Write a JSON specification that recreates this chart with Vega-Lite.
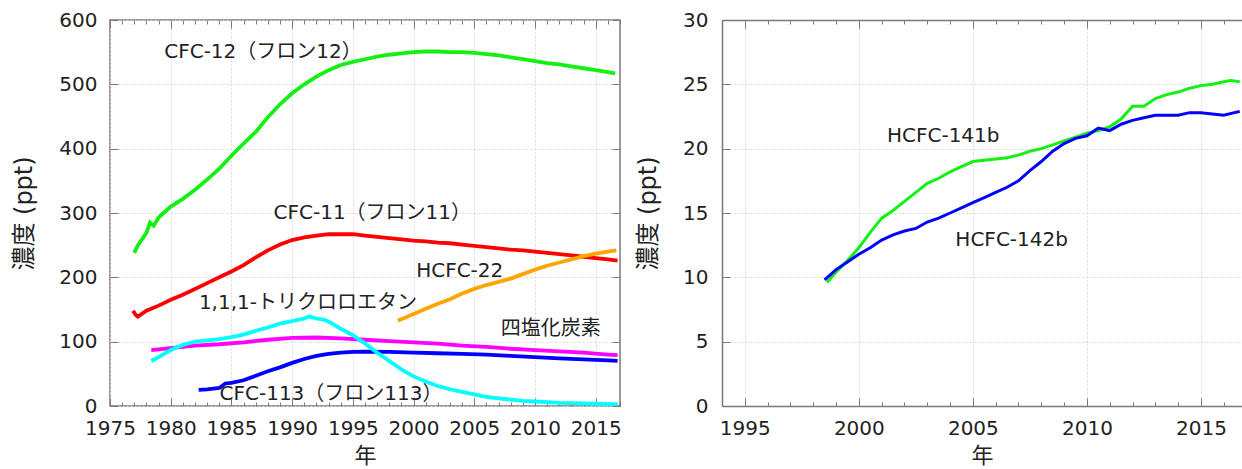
{
  "$schema": "https://vega.github.io/schema/vega-lite/v6.json",
  "padding": {"left": 12, "top": 9, "right": 0, "bottom": 0},
  "spacing": 102,
  "bounds": "flush",
  "datasets": {
    "left": [
      {"s": "CFC-12", "year": 1977.0, "ppt": 238}, {"s": "CFC-12", "year": 1977.3, "ppt": 250}, {"s": "CFC-12", "year": 1977.6, "ppt": 258}, {"s": "CFC-12", "year": 1978.0, "ppt": 269}, {"s": "CFC-12", "year": 1978.3, "ppt": 285}, {"s": "CFC-12", "year": 1978.6, "ppt": 280}, {"s": "CFC-12", "year": 1979.0, "ppt": 293}, {"s": "CFC-12", "year": 1980.0, "ppt": 310}, {"s": "CFC-12", "year": 1981.0, "ppt": 322}, {"s": "CFC-12", "year": 1982.0, "ppt": 336}, {"s": "CFC-12", "year": 1983.0, "ppt": 352}, {"s": "CFC-12", "year": 1984.0, "ppt": 369}, {"s": "CFC-12", "year": 1985.0, "ppt": 389}, {"s": "CFC-12", "year": 1986.0, "ppt": 408}, {"s": "CFC-12", "year": 1987.0, "ppt": 426}, {"s": "CFC-12", "year": 1988.0, "ppt": 449}, {"s": "CFC-12", "year": 1989.0, "ppt": 469}, {"s": "CFC-12", "year": 1990.0, "ppt": 486}, {"s": "CFC-12", "year": 1991.0, "ppt": 500}, {"s": "CFC-12", "year": 1992.0, "ppt": 512}, {"s": "CFC-12", "year": 1993.0, "ppt": 522}, {"s": "CFC-12", "year": 1994.0, "ppt": 530}, {"s": "CFC-12", "year": 1995.0, "ppt": 535}, {"s": "CFC-12", "year": 1996.0, "ppt": 539}, {"s": "CFC-12", "year": 1997.0, "ppt": 543}, {"s": "CFC-12", "year": 1998.0, "ppt": 546}, {"s": "CFC-12", "year": 1999.0, "ppt": 548}, {"s": "CFC-12", "year": 2000.0, "ppt": 550}, {"s": "CFC-12", "year": 2001.0, "ppt": 551}, {"s": "CFC-12", "year": 2002.0, "ppt": 551}, {"s": "CFC-12", "year": 2003.0, "ppt": 550}, {"s": "CFC-12", "year": 2004.0, "ppt": 550}, {"s": "CFC-12", "year": 2005.0, "ppt": 549}, {"s": "CFC-12", "year": 2006.0, "ppt": 547}, {"s": "CFC-12", "year": 2007.0, "ppt": 545}, {"s": "CFC-12", "year": 2008.0, "ppt": 542}, {"s": "CFC-12", "year": 2009.0, "ppt": 539}, {"s": "CFC-12", "year": 2010.0, "ppt": 536}, {"s": "CFC-12", "year": 2011.0, "ppt": 533}, {"s": "CFC-12", "year": 2012.0, "ppt": 531}, {"s": "CFC-12", "year": 2013.0, "ppt": 528}, {"s": "CFC-12", "year": 2014.0, "ppt": 525}, {"s": "CFC-12", "year": 2015.0, "ppt": 522}, {"s": "CFC-12", "year": 2016.0, "ppt": 519}, {"s": "CFC-12", "year": 2016.6, "ppt": 517},
      {"s": "CFC-11", "year": 1976.9, "ppt": 148}, {"s": "CFC-11", "year": 1977.1, "ppt": 142}, {"s": "CFC-11", "year": 1977.3, "ppt": 139}, {"s": "CFC-11", "year": 1978.0, "ppt": 148}, {"s": "CFC-11", "year": 1979.0, "ppt": 156}, {"s": "CFC-11", "year": 1980.0, "ppt": 165}, {"s": "CFC-11", "year": 1981.0, "ppt": 173}, {"s": "CFC-11", "year": 1982.0, "ppt": 182}, {"s": "CFC-11", "year": 1983.0, "ppt": 191}, {"s": "CFC-11", "year": 1984.0, "ppt": 200}, {"s": "CFC-11", "year": 1985.0, "ppt": 209}, {"s": "CFC-11", "year": 1986.0, "ppt": 219}, {"s": "CFC-11", "year": 1987.0, "ppt": 231}, {"s": "CFC-11", "year": 1988.0, "ppt": 242}, {"s": "CFC-11", "year": 1989.0, "ppt": 251}, {"s": "CFC-11", "year": 1990.0, "ppt": 258}, {"s": "CFC-11", "year": 1991.0, "ppt": 262}, {"s": "CFC-11", "year": 1992.0, "ppt": 265}, {"s": "CFC-11", "year": 1993.0, "ppt": 267}, {"s": "CFC-11", "year": 1994.0, "ppt": 267}, {"s": "CFC-11", "year": 1995.0, "ppt": 267}, {"s": "CFC-11", "year": 1996.0, "ppt": 265}, {"s": "CFC-11", "year": 1997.0, "ppt": 263}, {"s": "CFC-11", "year": 1998.0, "ppt": 261}, {"s": "CFC-11", "year": 1999.0, "ppt": 259}, {"s": "CFC-11", "year": 2000.0, "ppt": 257}, {"s": "CFC-11", "year": 2001.0, "ppt": 256}, {"s": "CFC-11", "year": 2002.0, "ppt": 254}, {"s": "CFC-11", "year": 2003.0, "ppt": 253}, {"s": "CFC-11", "year": 2004.0, "ppt": 251}, {"s": "CFC-11", "year": 2005.0, "ppt": 249}, {"s": "CFC-11", "year": 2006.0, "ppt": 247}, {"s": "CFC-11", "year": 2007.0, "ppt": 245}, {"s": "CFC-11", "year": 2008.0, "ppt": 243}, {"s": "CFC-11", "year": 2009.0, "ppt": 242}, {"s": "CFC-11", "year": 2010.0, "ppt": 240}, {"s": "CFC-11", "year": 2011.0, "ppt": 238}, {"s": "CFC-11", "year": 2012.0, "ppt": 236}, {"s": "CFC-11", "year": 2013.0, "ppt": 234}, {"s": "CFC-11", "year": 2014.0, "ppt": 232}, {"s": "CFC-11", "year": 2015.0, "ppt": 230}, {"s": "CFC-11", "year": 2016.0, "ppt": 228}, {"s": "CFC-11", "year": 2016.8, "ppt": 226},
      {"s": "HCFC-22", "year": 1998.7, "ppt": 133}, {"s": "HCFC-22", "year": 1999.0, "ppt": 135}, {"s": "HCFC-22", "year": 2000.0, "ppt": 143}, {"s": "HCFC-22", "year": 2001.0, "ppt": 151}, {"s": "HCFC-22", "year": 2002.0, "ppt": 159}, {"s": "HCFC-22", "year": 2003.0, "ppt": 166}, {"s": "HCFC-22", "year": 2004.0, "ppt": 175}, {"s": "HCFC-22", "year": 2005.0, "ppt": 182}, {"s": "HCFC-22", "year": 2006.0, "ppt": 188}, {"s": "HCFC-22", "year": 2007.0, "ppt": 193}, {"s": "HCFC-22", "year": 2008.0, "ppt": 198}, {"s": "HCFC-22", "year": 2009.0, "ppt": 205}, {"s": "HCFC-22", "year": 2010.0, "ppt": 212}, {"s": "HCFC-22", "year": 2011.0, "ppt": 218}, {"s": "HCFC-22", "year": 2012.0, "ppt": 223}, {"s": "HCFC-22", "year": 2013.0, "ppt": 228}, {"s": "HCFC-22", "year": 2014.0, "ppt": 233}, {"s": "HCFC-22", "year": 2015.0, "ppt": 237}, {"s": "HCFC-22", "year": 2016.0, "ppt": 240}, {"s": "HCFC-22", "year": 2016.7, "ppt": 242},
      {"s": "CCl4", "year": 1978.4, "ppt": 87}, {"s": "CCl4", "year": 1980.0, "ppt": 90}, {"s": "CCl4", "year": 1982.0, "ppt": 94}, {"s": "CCl4", "year": 1984.0, "ppt": 96}, {"s": "CCl4", "year": 1986.0, "ppt": 99}, {"s": "CCl4", "year": 1988.0, "ppt": 103}, {"s": "CCl4", "year": 1990.0, "ppt": 106}, {"s": "CCl4", "year": 1992.0, "ppt": 106.5}, {"s": "CCl4", "year": 1994.0, "ppt": 105}, {"s": "CCl4", "year": 1996.0, "ppt": 103}, {"s": "CCl4", "year": 1998.0, "ppt": 101}, {"s": "CCl4", "year": 2000.0, "ppt": 99}, {"s": "CCl4", "year": 2002.0, "ppt": 97}, {"s": "CCl4", "year": 2004.0, "ppt": 94}, {"s": "CCl4", "year": 2006.0, "ppt": 92}, {"s": "CCl4", "year": 2008.0, "ppt": 89}, {"s": "CCl4", "year": 2010.0, "ppt": 87}, {"s": "CCl4", "year": 2012.0, "ppt": 85}, {"s": "CCl4", "year": 2014.0, "ppt": 83}, {"s": "CCl4", "year": 2016.0, "ppt": 80}, {"s": "CCl4", "year": 2016.8, "ppt": 79},
      {"s": "CFC-113", "year": 1982.3, "ppt": 25}, {"s": "CFC-113", "year": 1983.0, "ppt": 26}, {"s": "CFC-113", "year": 1984.0, "ppt": 28}, {"s": "CFC-113", "year": 1984.5, "ppt": 35}, {"s": "CFC-113", "year": 1985.0, "ppt": 36}, {"s": "CFC-113", "year": 1986.0, "ppt": 40}, {"s": "CFC-113", "year": 1987.0, "ppt": 47}, {"s": "CFC-113", "year": 1988.0, "ppt": 54}, {"s": "CFC-113", "year": 1989.0, "ppt": 60}, {"s": "CFC-113", "year": 1990.0, "ppt": 67}, {"s": "CFC-113", "year": 1991.0, "ppt": 73}, {"s": "CFC-113", "year": 1992.0, "ppt": 78}, {"s": "CFC-113", "year": 1993.0, "ppt": 81}, {"s": "CFC-113", "year": 1994.0, "ppt": 83}, {"s": "CFC-113", "year": 1995.0, "ppt": 84}, {"s": "CFC-113", "year": 1996.0, "ppt": 84.5}, {"s": "CFC-113", "year": 1998.0, "ppt": 84}, {"s": "CFC-113", "year": 2000.0, "ppt": 83}, {"s": "CFC-113", "year": 2002.0, "ppt": 82}, {"s": "CFC-113", "year": 2004.0, "ppt": 81}, {"s": "CFC-113", "year": 2006.0, "ppt": 80}, {"s": "CFC-113", "year": 2008.0, "ppt": 78}, {"s": "CFC-113", "year": 2010.0, "ppt": 76}, {"s": "CFC-113", "year": 2012.0, "ppt": 74}, {"s": "CFC-113", "year": 2014.0, "ppt": 72.5}, {"s": "CFC-113", "year": 2016.0, "ppt": 71}, {"s": "CFC-113", "year": 2016.8, "ppt": 70},
      {"s": "CH3CCl3", "year": 1978.4, "ppt": 70}, {"s": "CH3CCl3", "year": 1979.0, "ppt": 76}, {"s": "CH3CCl3", "year": 1980.0, "ppt": 87}, {"s": "CH3CCl3", "year": 1981.0, "ppt": 95}, {"s": "CH3CCl3", "year": 1982.0, "ppt": 100}, {"s": "CH3CCl3", "year": 1983.0, "ppt": 102}, {"s": "CH3CCl3", "year": 1984.0, "ppt": 104}, {"s": "CH3CCl3", "year": 1985.0, "ppt": 107}, {"s": "CH3CCl3", "year": 1986.0, "ppt": 111}, {"s": "CH3CCl3", "year": 1987.0, "ppt": 117}, {"s": "CH3CCl3", "year": 1988.0, "ppt": 122}, {"s": "CH3CCl3", "year": 1989.0, "ppt": 128}, {"s": "CH3CCl3", "year": 1990.0, "ppt": 132}, {"s": "CH3CCl3", "year": 1991.0, "ppt": 136}, {"s": "CH3CCl3", "year": 1991.4, "ppt": 139}, {"s": "CH3CCl3", "year": 1992.0, "ppt": 136}, {"s": "CH3CCl3", "year": 1992.7, "ppt": 134}, {"s": "CH3CCl3", "year": 1993.3, "ppt": 128}, {"s": "CH3CCl3", "year": 1994.0, "ppt": 120}, {"s": "CH3CCl3", "year": 1995.0, "ppt": 110}, {"s": "CH3CCl3", "year": 1996.0, "ppt": 97}, {"s": "CH3CCl3", "year": 1997.0, "ppt": 83}, {"s": "CH3CCl3", "year": 1998.0, "ppt": 70}, {"s": "CH3CCl3", "year": 1999.0, "ppt": 57}, {"s": "CH3CCl3", "year": 2000.0, "ppt": 46}, {"s": "CH3CCl3", "year": 2001.0, "ppt": 38}, {"s": "CH3CCl3", "year": 2002.0, "ppt": 31}, {"s": "CH3CCl3", "year": 2003.0, "ppt": 26}, {"s": "CH3CCl3", "year": 2004.0, "ppt": 22}, {"s": "CH3CCl3", "year": 2005.0, "ppt": 18}, {"s": "CH3CCl3", "year": 2006.0, "ppt": 14}, {"s": "CH3CCl3", "year": 2007.0, "ppt": 12}, {"s": "CH3CCl3", "year": 2008.0, "ppt": 10}, {"s": "CH3CCl3", "year": 2009.0, "ppt": 8}, {"s": "CH3CCl3", "year": 2010.0, "ppt": 7}, {"s": "CH3CCl3", "year": 2011.0, "ppt": 6}, {"s": "CH3CCl3", "year": 2012.0, "ppt": 5}, {"s": "CH3CCl3", "year": 2013.0, "ppt": 4.5}, {"s": "CH3CCl3", "year": 2014.0, "ppt": 4}, {"s": "CH3CCl3", "year": 2015.0, "ppt": 3.5}, {"s": "CH3CCl3", "year": 2016.0, "ppt": 3}, {"s": "CH3CCl3", "year": 2016.8, "ppt": 2.8}
    ],
    "leftLabels": [
      {"label": "CFC-12（フロン12）", "x": 1987.6, "y": 550},
      {"label": "CFC-11（フロン11）", "x": 1996.6, "y": 300},
      {"label": "HCFC-22", "x": 2003.8, "y": 210},
      {"label": "1,1,1-トリクロロエタン", "x": 1991.3, "y": 160},
      {"label": "四塩化炭素", "x": 2011.3, "y": 120},
      {"label": "CFC-113（フロン113）", "x": 1993.2, "y": 19}
    ],
    "right": [
      {"s": "HCFC-141b", "year": 1998.6, "ppt": 9.6}, {"s": "HCFC-141b", "year": 1999.0, "ppt": 10.4}, {"s": "HCFC-141b", "year": 1999.5, "ppt": 11.3}, {"s": "HCFC-141b", "year": 2000.0, "ppt": 12.3}, {"s": "HCFC-141b", "year": 2000.5, "ppt": 13.5}, {"s": "HCFC-141b", "year": 2001.0, "ppt": 14.6}, {"s": "HCFC-141b", "year": 2001.5, "ppt": 15.2}, {"s": "HCFC-141b", "year": 2002.0, "ppt": 15.9}, {"s": "HCFC-141b", "year": 2002.5, "ppt": 16.6}, {"s": "HCFC-141b", "year": 2003.0, "ppt": 17.3}, {"s": "HCFC-141b", "year": 2003.5, "ppt": 17.7}, {"s": "HCFC-141b", "year": 2004.0, "ppt": 18.2}, {"s": "HCFC-141b", "year": 2004.5, "ppt": 18.6}, {"s": "HCFC-141b", "year": 2005.0, "ppt": 19.0}, {"s": "HCFC-141b", "year": 2005.5, "ppt": 19.1}, {"s": "HCFC-141b", "year": 2006.0, "ppt": 19.2}, {"s": "HCFC-141b", "year": 2006.5, "ppt": 19.3}, {"s": "HCFC-141b", "year": 2007.0, "ppt": 19.5}, {"s": "HCFC-141b", "year": 2007.5, "ppt": 19.8}, {"s": "HCFC-141b", "year": 2008.0, "ppt": 20.0}, {"s": "HCFC-141b", "year": 2008.5, "ppt": 20.3}, {"s": "HCFC-141b", "year": 2009.0, "ppt": 20.6}, {"s": "HCFC-141b", "year": 2009.5, "ppt": 20.9}, {"s": "HCFC-141b", "year": 2010.0, "ppt": 21.2}, {"s": "HCFC-141b", "year": 2010.5, "ppt": 21.4}, {"s": "HCFC-141b", "year": 2011.0, "ppt": 21.7}, {"s": "HCFC-141b", "year": 2011.5, "ppt": 22.3}, {"s": "HCFC-141b", "year": 2012.0, "ppt": 23.3}, {"s": "HCFC-141b", "year": 2012.5, "ppt": 23.3}, {"s": "HCFC-141b", "year": 2013.0, "ppt": 23.9}, {"s": "HCFC-141b", "year": 2013.5, "ppt": 24.2}, {"s": "HCFC-141b", "year": 2014.0, "ppt": 24.4}, {"s": "HCFC-141b", "year": 2014.5, "ppt": 24.7}, {"s": "HCFC-141b", "year": 2015.0, "ppt": 24.9}, {"s": "HCFC-141b", "year": 2015.5, "ppt": 25.0}, {"s": "HCFC-141b", "year": 2016.0, "ppt": 25.2}, {"s": "HCFC-141b", "year": 2016.3, "ppt": 25.3}, {"s": "HCFC-141b", "year": 2016.7, "ppt": 25.2},
      {"s": "HCFC-142b", "year": 1998.5, "ppt": 9.8}, {"s": "HCFC-142b", "year": 1999.0, "ppt": 10.6}, {"s": "HCFC-142b", "year": 1999.5, "ppt": 11.2}, {"s": "HCFC-142b", "year": 2000.0, "ppt": 11.8}, {"s": "HCFC-142b", "year": 2000.5, "ppt": 12.3}, {"s": "HCFC-142b", "year": 2001.0, "ppt": 12.9}, {"s": "HCFC-142b", "year": 2001.5, "ppt": 13.3}, {"s": "HCFC-142b", "year": 2002.0, "ppt": 13.6}, {"s": "HCFC-142b", "year": 2002.5, "ppt": 13.8}, {"s": "HCFC-142b", "year": 2003.0, "ppt": 14.3}, {"s": "HCFC-142b", "year": 2003.5, "ppt": 14.6}, {"s": "HCFC-142b", "year": 2004.0, "ppt": 15.0}, {"s": "HCFC-142b", "year": 2004.5, "ppt": 15.4}, {"s": "HCFC-142b", "year": 2005.0, "ppt": 15.8}, {"s": "HCFC-142b", "year": 2005.5, "ppt": 16.2}, {"s": "HCFC-142b", "year": 2006.0, "ppt": 16.6}, {"s": "HCFC-142b", "year": 2006.5, "ppt": 17.0}, {"s": "HCFC-142b", "year": 2007.0, "ppt": 17.5}, {"s": "HCFC-142b", "year": 2007.5, "ppt": 18.3}, {"s": "HCFC-142b", "year": 2008.0, "ppt": 19.0}, {"s": "HCFC-142b", "year": 2008.5, "ppt": 19.8}, {"s": "HCFC-142b", "year": 2009.0, "ppt": 20.4}, {"s": "HCFC-142b", "year": 2009.5, "ppt": 20.8}, {"s": "HCFC-142b", "year": 2010.0, "ppt": 21.0}, {"s": "HCFC-142b", "year": 2010.5, "ppt": 21.6}, {"s": "HCFC-142b", "year": 2011.0, "ppt": 21.4}, {"s": "HCFC-142b", "year": 2011.5, "ppt": 21.9}, {"s": "HCFC-142b", "year": 2012.0, "ppt": 22.2}, {"s": "HCFC-142b", "year": 2012.5, "ppt": 22.4}, {"s": "HCFC-142b", "year": 2013.0, "ppt": 22.6}, {"s": "HCFC-142b", "year": 2013.5, "ppt": 22.6}, {"s": "HCFC-142b", "year": 2014.0, "ppt": 22.6}, {"s": "HCFC-142b", "year": 2014.5, "ppt": 22.8}, {"s": "HCFC-142b", "year": 2015.0, "ppt": 22.8}, {"s": "HCFC-142b", "year": 2015.5, "ppt": 22.7}, {"s": "HCFC-142b", "year": 2016.0, "ppt": 22.6}, {"s": "HCFC-142b", "year": 2016.7, "ppt": 22.9}
    ],
    "rightLabels": [
      {"label": "HCFC-141b", "x": 2003.7, "y": 21.0},
      {"label": "HCFC-142b", "x": 2006.7, "y": 12.9}
    ]
  },
  "hconcat": [
    {
      "width": 510,
      "height": 386,
      "layer": [
        {
          "data": {"name": "left"},
          "mark": {"type": "line", "strokeWidth": 3.8, "clip": true},
          "encoding": {
            "x": {"field": "year", "type": "quantitative", "scale": {"domain": [1975, 2017], "nice": false, "zero": false},
              "axis": {"orient": "bottom", "title": "年", "format": "d", "labelFlush": false, "labelOverlap": false, "labelBound": false,
                "values": [1975,1976,1977,1978,1979,1980,1981,1982,1983,1984,1985,1986,1987,1988,1989,1990,1991,1992,1993,1994,1995,1996,1997,1998,1999,2000,2001,2002,2003,2004,2005,2006,2007,2008,2009,2010,2011,2012,2013,2014,2015,2016,2017],
                "labelExpr": "datum.value % 5 === 0 ? datum.label : ''",
                "tickSize": {"condition": {"test": "datum.value % 5 === 0", "value": -8}, "value": -4},
                "grid": true,
                "gridOpacity": {"condition": {"test": "datum.value % 5 === 0", "value": 1}, "value": 0},
                "labelPadding": 20, "titlePadding": 3, "titleFontSize": 22}},
            "y": {"field": "ppt", "type": "quantitative", "scale": {"domain": [0, 600], "nice": false},
              "axis": {"orient": "left", "title": "濃度 (ppt)", "values": [0,100,200,300,400,500,600], "tickSize": -8, "grid": true, "labelPadding": 21, "titlePadding": 22, "labelOverlap": false}},
            "color": {"field": "s", "type": "nominal", "legend": null,
              "scale": {"domain": ["CFC-12","CFC-11","HCFC-22","CCl4","CFC-113","CH3CCl3","HCFC-141b","HCFC-142b"],
                        "range": ["#14f014","#ff0000","#ffa500","#ff00ff","#0000ff","#00ffff","#14f014","#0000ff"]}}
          }
        },
        {
          "data": {"name": "leftLabels"},
          "mark": {"type": "text", "font": "DejaVu Sans, Noto Sans CJK JP", "fontSize": 20, "color": "#222222", "align": "center", "baseline": "middle"},
          "encoding": {
            "x": {"field": "x", "type": "quantitative",
              "axis": {"orient": "top", "title": null, "labels": false, "grid": false,
                "values": [1975,1976,1977,1978,1979,1980,1981,1982,1983,1984,1985,1986,1987,1988,1989,1990,1991,1992,1993,1994,1995,1996,1997,1998,1999,2000,2001,2002,2003,2004,2005,2006,2007,2008,2009,2010,2011,2012,2013,2014,2015,2016,2017],
                "tickSize": {"condition": {"test": "datum.value % 5 === 0", "value": -8}, "value": -4}}},
            "y": {"field": "y", "type": "quantitative",
              "axis": {"orient": "right", "title": null, "labels": false, "grid": false, "values": [0,100,200,300,400,500,600], "tickSize": -8}},
            "text": {"field": "label"}
          }
        }
      ],
      "resolve": {"axis": {"x": "independent", "y": "independent"}}
    },
    {
      "width": 520,
      "height": 386,
      "view": {"stroke": null},
      "layer": [
        {
          "data": {"name": "right"},
          "mark": {"type": "line", "strokeWidth": 3, "clip": true},
          "encoding": {
            "x": {"field": "year", "type": "quantitative", "scale": {"domain": [1994, 2016.8], "nice": false, "zero": false},
              "axis": {"orient": "bottom", "title": "年", "format": "d", "domain": true, "labelFlush": false, "labelOverlap": false, "labelBound": false,
                "values": [1994,1995,1996,1997,1998,1999,2000,2001,2002,2003,2004,2005,2006,2007,2008,2009,2010,2011,2012,2013,2014,2015,2016],
                "labelExpr": "datum.value % 5 === 0 ? datum.label : ''",
                "tickSize": {"condition": {"test": "datum.value % 5 === 0", "value": -8}, "value": -4},
                "grid": true,
                "gridOpacity": {"condition": {"test": "datum.value % 5 === 0", "value": 1}, "value": 0},
                "labelPadding": 20, "titlePadding": 3, "titleFontSize": 22}},
            "y": {"field": "ppt", "type": "quantitative", "scale": {"domain": [0, 30], "nice": false},
              "axis": {"orient": "left", "title": "濃度 (ppt)", "domain": true, "values": [0,5,10,15,20,25,30], "tickSize": -8, "grid": true, "labelPadding": 22, "titlePadding": 22, "labelOverlap": false}},
            "color": {"field": "s", "type": "nominal", "legend": null,
              "scale": {"domain": ["CFC-12","CFC-11","HCFC-22","CCl4","CFC-113","CH3CCl3","HCFC-141b","HCFC-142b"],
                        "range": ["#14f014","#ff0000","#ffa500","#ff00ff","#0000ff","#00ffff","#14f014","#0000ff"]}}
          }
        },
        {
          "data": {"name": "rightLabels"},
          "mark": {"type": "text", "font": "DejaVu Sans, Noto Sans CJK JP", "fontSize": 20, "color": "#222222", "align": "center", "baseline": "middle"},
          "encoding": {
            "x": {"field": "x", "type": "quantitative",
              "axis": {"orient": "top", "title": null, "labels": false, "grid": false, "domain": true,
                "values": [1994,1995,1996,1997,1998,1999,2000,2001,2002,2003,2004,2005,2006,2007,2008,2009,2010,2011,2012,2013,2014,2015,2016],
                "tickSize": {"condition": {"test": "datum.value % 5 === 0", "value": -8}, "value": -4}}},
            "y": {"field": "y", "type": "quantitative", "axis": null},
            "text": {"field": "label"}
          }
        }
      ],
      "resolve": {"axis": {"x": "independent", "y": "independent"}}
    }
  ],
  "config": {
    "view": {"stroke": "#7a7a7a", "strokeWidth": 1.5},
    "axis": {
      "labelFont": "DejaVu Sans", "labelFontSize": 20, "labelColor": "#222222",
      "titleFont": "DejaVu Sans, Noto Sans CJK JP", "titleFontSize": 24, "titleFontWeight": "normal", "titleColor": "#222222",
      "domain": false, "domainColor": "#7a7a7a", "domainWidth": 1.5,
      "tickColor": "#7a7a7a", "tickWidth": 1,
      "gridColor": "#d8d8d8", "gridDash": [2, 2], "gridWidth": 1
    }
  }
}
